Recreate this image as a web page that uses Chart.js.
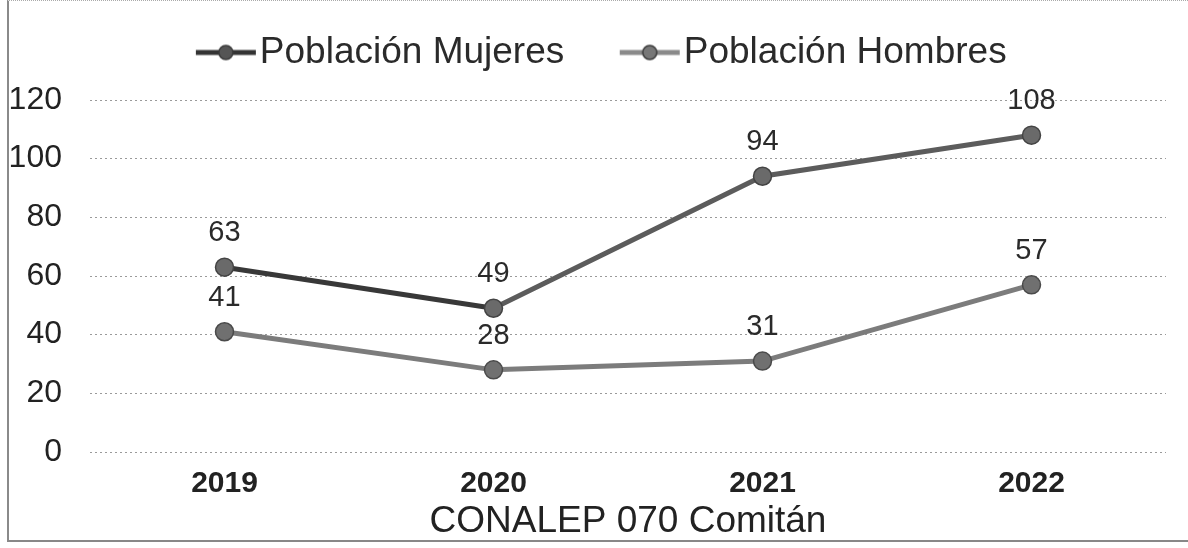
<!DOCTYPE html>
<html>
<head>
<meta charset="utf-8">
<script src="https://cdn.jsdelivr.net/npm/chart.js@4.4.1/dist/chart.umd.min.js"></script>
<style>
  html, body { margin: 0; padding: 0; background: #fff; }
  #wrap {
    position: relative; box-sizing: border-box;
    border-left: 2px solid #8a8a8a; border-top: 1px dotted #aaa; border-bottom: 2px solid #888;
    margin-left: 7px; width: 1181px; height: 542px;
  }
  canvas { display: block; }
</style>
</head>
<body>
<div id="wrap"><canvas id="chart" width="1179" height="539"></canvas></div>
<script>
// Data
const years = ['2019', '2020', '2021', '2022'];
const mujeres = [63, 49, 94, 108];
const hombres = [41, 28, 31, 57];
const yTicks = [0, 20, 40, 60, 80, 100, 120];

const FONT = 'Liberation Sans, Arial, sans-serif';

// legend marker: a short line with a dot in the middle
function legendMarker(lineColor, dotColor) {
    const c = document.createElement('canvas');
    c.width = 62; c.height = 20;
    const g = c.getContext('2d');
    g.strokeStyle = lineColor;
    g.lineWidth = 5;
    g.beginPath();
    g.moveTo(1, 10);
    g.lineTo(61, 10);
    g.stroke();
    g.fillStyle = dotColor;
    g.strokeStyle = '#3a3a3a';
    g.lineWidth = 1.5;
    g.beginPath();
    g.arc(31, 10, 7, 0, Math.PI * 2);
    g.fill();
    g.stroke();
    return c;
}
const markers = [legendMarker('#333', '#555'), legendMarker('#8a8a8a', '#777')];

// value labels above every point
const valueLabels = {
    id: 'valueLabels',
    afterDatasetsDraw(chart) {
        const { ctx } = chart;
        ctx.save();
        ctx.font = '29px ' + FONT;
        ctx.fillStyle = '#2a2a2a';
        ctx.textAlign = 'center';
        ctx.textBaseline = 'middle';
        chart.data.datasets.forEach((ds, i) => {
            chart.getDatasetMeta(i).data.forEach((pt, j) => {
                ctx.fillText(ds.data[j], pt.x, pt.y - 34);
            });
        });
        ctx.restore();
    }
};

// more room between legend row and plot, and nudge the legend right
const legendGap = {
    id: 'legendGap',
    beforeLayout(chart) {
        const lg = chart.legend;
        if (lg && !lg._gapPatched) {
            const fit = lg.fit;
            lg.fit = function () {
                fit.call(this);
                this.height = 136;
            };
            lg._gapPatched = true;
        }
    },
    afterLayout(chart) {
        chart.legend.left += 21;
        chart.legend.right += 21;
    }
};

const ctx = document.getElementById('chart').getContext('2d');

new Chart(ctx, {
    type: 'line',
    data: {
        labels: years,
        datasets: [
            {
                label: 'Población Mujeres',
                data: mujeres,
                borderColor: '#555',
                borderWidth: 5,
                segment: {
                    borderColor: (c) => c.p0DataIndex === 0 ? '#383838' : '#5c5c5c'
                },
                pointStyle: 'circle',
                pointRadius: 9,
                pointBackgroundColor: '#6a6a6a',
                pointBorderColor: '#444',
                pointBorderWidth: 1.5,
                tension: 0
            },
            {
                label: 'Población Hombres',
                data: hombres,
                borderColor: '#7c7c7c',
                borderWidth: 5,
                pointStyle: 'circle',
                pointRadius: 9,
                pointBackgroundColor: '#707070',
                pointBorderColor: '#4a4a4a',
                pointBorderWidth: 1.5,
                tension: 0
            }
        ]
    },
    options: {
        responsive: false,
        animation: false,
        layout: { padding: { left: 0, right: 22, top: -37, bottom: 0 } },
        plugins: {
            legend: {
                position: 'top',
                labels: {
                    usePointStyle: true,
                    pointStyleWidth: 31,
                    boxHeight: 20,
                    font: { family: FONT, size: 37 },
                    color: '#2a2a2a',
                    padding: 70,
                    generateLabels(chart) {
                        const items = Chart.defaults.plugins.legend.labels.generateLabels(chart);
                        return items.map((it, i) => Object.assign(it, { pointStyle: markers[i] }));
                    }
                }
            },
            tooltip: { enabled: false }
        },
        scales: {
            x: {
                offset: true,
                grid: { display: false, drawTicks: false },
                border: { display: false },
                afterFit(axis) { axis.height = 88; },
                ticks: {
                    font: { family: FONT, size: 30, weight: 'bold' },
                    color: '#222',
                    padding: 14
                },
                title: {
                    display: true,
                    text: 'CONALEP 070 Comitán',
                    font: { family: FONT, size: 37, lineHeight: 1 },
                    color: '#222',
                    padding: { top: 0, bottom: 0 }
                }
            },
            y: {
                min: 0,
                max: 120,
                afterBuildTicks(axis) {
                    axis.ticks = yTicks.map((v) => ({ value: v }));
                },
                afterFit(axis) { axis.width = 81; },
                grid: {
                    color: '#9a9a9a',
                    lineWidth: 1,
                    drawTicks: false
                },
                border: { display: false, dash: [2, 3] },
                ticks: {
                    font: { family: FONT, size: 32 },
                    color: '#222',
                    padding: 28
                }
            }
        }
    },
    plugins: [valueLabels, legendGap]
});
</script>
</body>
</html>
